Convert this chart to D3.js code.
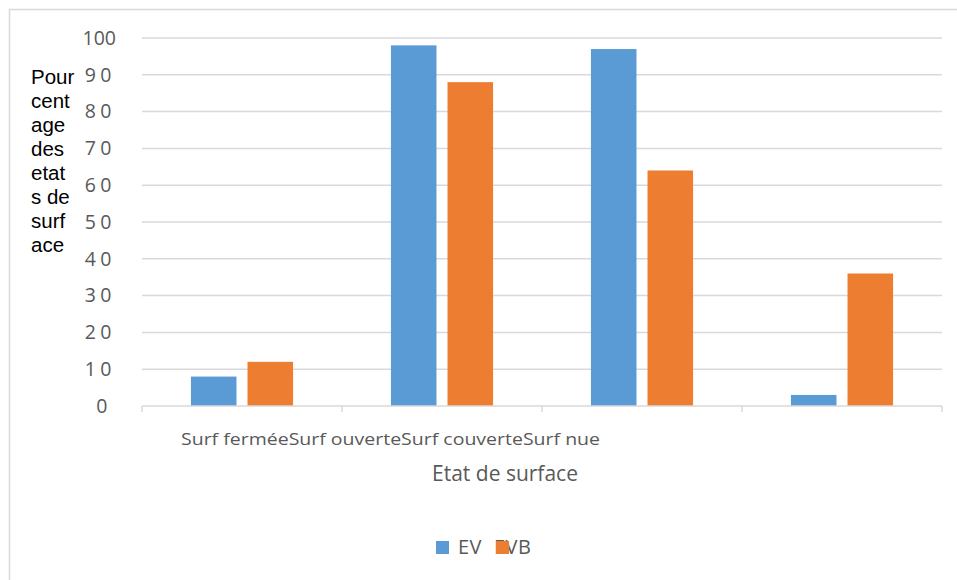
<!DOCTYPE html>
<html><head><meta charset="utf-8">
<script src="https://cdn.jsdelivr.net/npm/d3@7"></script>
<style>body{margin:0;background:#fff;} svg{display:block;}</style>
</head><body>
<svg id="chart" width="957" height="580"></svg>
<script>
const categories = ["Surf fermée", "Surf ouverte", "Surf couverte", "Surf nue"];
const seriesNames = ["EV", "EVB"];
const evValues = [8, 98, 97, 3];
const evbValues = [12, 88, 64, 36];
const yTicks = [0, 10, 20, 30, 40, 50, 60, 70, 80, 90, 100];
const yTitleLines = ["Pour", "cent", "age", "des", "etat", "s de", "surf", "ace"];
const xTitle = "Etat de surface";

const colors = {EV: "#5B9BD5", EVB: "#ED7D31"};
const font = "'Open Sans', 'Noto Sans', sans-serif";
const svg = d3.select("#chart");

// outer frame (left & top visible)
svg.append("rect").attr("x", 9.5).attr("y", 9.5).attr("width", 1000).attr("height", 1000)
  .attr("fill", "none").attr("stroke", "#D9D9D9").attr("stroke-width", 1.5);

const plot = {left: 142, right: 942, top: 38, bottom: 406};
const x0 = d3.scaleBand().domain(categories).range([plot.left, plot.right]).padding(0);
const x1 = d3.scaleBand().domain(seriesNames).range([0, x0.bandwidth()])
  .paddingInner(0.195).paddingOuter(0.865);
const y = d3.scaleLinear().domain([0, 100]).range([plot.bottom, plot.top]);

// gridlines
svg.append("g").selectAll("line").data(yTicks.filter(t => t > 0)).join("line")
  .attr("x1", plot.left).attr("x2", plot.right)
  .attr("y1", d => y(d)).attr("y2", d => y(d))
  .attr("stroke", "#D9D9D9").attr("stroke-width", 1.5);

// bars
const data = categories.map((c, i) => ({cat: c, vals: [
  {s: "EV", v: evValues[i]}, {s: "EVB", v: evbValues[i]}]}));
const groups = svg.append("g").selectAll("g").data(data).join("g")
  .attr("transform", d => `translate(${x0(d.cat)},0)`);
groups.selectAll("rect").data(d => d.vals).join("rect")
  .attr("x", d => x1(d.s)).attr("width", x1.bandwidth())
  .attr("y", d => y(d.v)).attr("height", d => y(0) - y(d.v))
  .attr("fill", d => colors[d.s]);

// x axis line with ticks at category boundaries
const xAxisG = svg.append("g");
xAxisG.append("line").attr("x1", plot.left).attr("x2", plot.right)
  .attr("y1", y(0)).attr("y2", y(0)).attr("stroke", "#D9D9D9").attr("stroke-width", 1.5);
const bounds = categories.map(c => x0(c)).concat([x0(categories[categories.length - 1]) + x0.bandwidth()]);
xAxisG.selectAll("line.tk").data(bounds).join("line").attr("class", "tk")
  .attr("x1", d => d).attr("x2", d => d).attr("y1", y(0)).attr("y2", y(0) + 6)
  .attr("stroke", "#D9D9D9").attr("stroke-width", 1.5);

// y axis labels
const yAxis = d3.axisLeft(y).tickValues(yTicks).tickSize(0).tickPadding(0);
const yG = svg.append("g").attr("transform", `translate(116,0)`).call(yAxis);
yG.select(".domain").remove();
yG.selectAll("text")
  .attr("font-family", font).attr("font-size", 19.5).attr("fill", "#595959")
  .attr("letter-spacing", d => d === 100 ? "0px" : "4.5px")
  .attr("dx", d => d === 0 ? -4 : 0);

// y title
svg.append("text").attr("font-family", "'Liberation Sans', Arial, sans-serif")
  .attr("font-size", 20.5).attr("fill", "#000")
  .selectAll("tspan").data(yTitleLines).join("tspan")
  .attr("x", 31).attr("y", (d, i) => 84 + i * 24).text(d => d);

// category labels (bunched together as in reference)
svg.append("text").attr("x", 181).attr("y", 445)
  .attr("font-family", font).attr("font-size", 17).attr("fill", "#595959")
  .attr("textLength", 419).attr("lengthAdjust", "spacingAndGlyphs")
  .text(categories.join(""));

// x title
svg.append("text").attr("x", 505).attr("y", 481).attr("text-anchor", "middle")
  .attr("font-family", font).attr("font-size", 21).attr("fill", "#595959")
  .text(xTitle);

// legend
const legendPos = [{sq: 436, tx: 458}, {sq: 496, tx: 494}];
const lg = svg.append("g");
seriesNames.forEach((s, i) => {
  lg.append("text").attr("x", legendPos[i].tx).attr("y", 554)
    .attr("font-family", font).attr("font-size", 20).attr("fill", "#595959")
    .attr("letter-spacing", "0.5px").text(s);
});
seriesNames.forEach((s, i) => {
  lg.append("rect").attr("x", legendPos[i].sq).attr("y", 541).attr("width", 13).attr("height", 13)
    .attr("fill", colors[s]);
});
</script>
</body></html>
